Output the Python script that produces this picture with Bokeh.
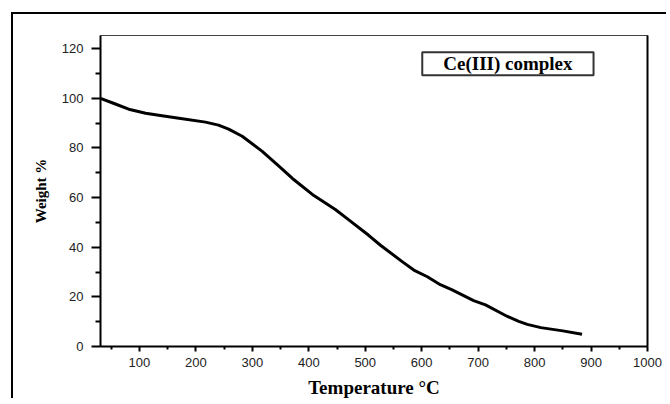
from bokeh.plotting import figure
from bokeh.models import Range1d, LinearAxis, Label, FixedTicker
from bokeh.embed import file_html
from bokeh.resources import INLINE

temperature = [31, 55, 81, 111, 140, 170, 217, 240, 258, 282, 317, 350, 371, 409, 447, 468, 506, 527, 566,
               586, 610, 633, 654, 692, 713, 751, 772, 787, 811, 850, 884]
weight = [100.0, 97.9, 95.6, 94.0, 93.0, 92.0, 90.4, 89.2, 87.6, 84.7, 78.7, 72.1, 67.7, 60.8, 55.2, 51.5,
          44.8, 40.8, 34.1, 30.8, 28.1, 24.9, 22.8, 18.5, 16.8, 12.2, 10.1, 8.9, 7.6, 6.3, 4.9]
x_ticks = [100, 200, 300, 400, 500, 600, 700, 800, 900, 1000]
y_ticks = [0, 20, 40, 60, 80, 100, 120]

p = figure(width=655, height=386, output_backend="svg", toolbar_location=None,
           x_range=Range1d(31, 1000), y_range=Range1d(0, 125.3),
           min_border_left=87, min_border_top=21, min_border_right=21, min_border_bottom=51)
p.styles = {"border-left": "2px solid black", "border-top": "2px solid black",
            "margin-left": "11px", "margin-top": "12px"}
p.grid.visible = False
p.outline_line_color = "#444444"
p.outline_line_width = 1

p.line(temperature, weight, line_color="black", line_width=3, line_join="round")

p.xaxis.ticker = FixedTicker(ticks=x_ticks, minor_ticks=[50 + 100 * i for i in range(10)])
p.yaxis.ticker = FixedTicker(ticks=y_ticks, minor_ticks=[10, 30, 50, 70, 90, 110])
for ax in (p.xaxis[0], p.yaxis[0]):
    ax.axis_line_width = 2
    ax.axis_line_color = "black"
    ax.major_tick_line_width = 2
    ax.minor_tick_line_width = 2
    ax.major_tick_in = 0
    ax.minor_tick_in = 0
    ax.major_label_text_font = "Liberation Sans"
    ax.major_label_text_font_size = "13px"
    ax.major_label_text_color = "#222222"
    ax.axis_label_text_font = "Liberation Serif"
    ax.axis_label_text_font_style = "bold"
    ax.axis_label_text_color = "black"

p.xaxis.major_tick_out = 5
p.xaxis.minor_tick_out = 3
p.yaxis.major_tick_out = 9
p.yaxis.minor_tick_out = 5
p.xaxis.major_label_standoff = 6
p.yaxis.major_label_standoff = 8
p.xaxis.axis_label = "Temperature °C"
p.xaxis.axis_label_text_font_size = "19px"
p.xaxis.axis_label_standoff = 7
p.yaxis.axis_label = "Weight %"
p.yaxis.axis_label_text_font_size = "15px"
p.yaxis.axis_label_standoff = 10

right = LinearAxis(axis_line_width=2, axis_line_color="black", ticker=FixedTicker(ticks=[]),
                   major_tick_line_color=None, minor_tick_line_color=None)
p.add_layout(right, "right")

lab = Label(x=601, y=109.3, text="Ce(III) complex",
            text_font="Liberation Serif", text_font_style="bold", text_font_size="19px",
            text_color="black", border_line_color="#333333", border_line_width=2,
            background_fill_color="white", padding=(21, 1))
p.add_layout(lab)

open("out.html", "w").write(file_html(p, INLINE))
